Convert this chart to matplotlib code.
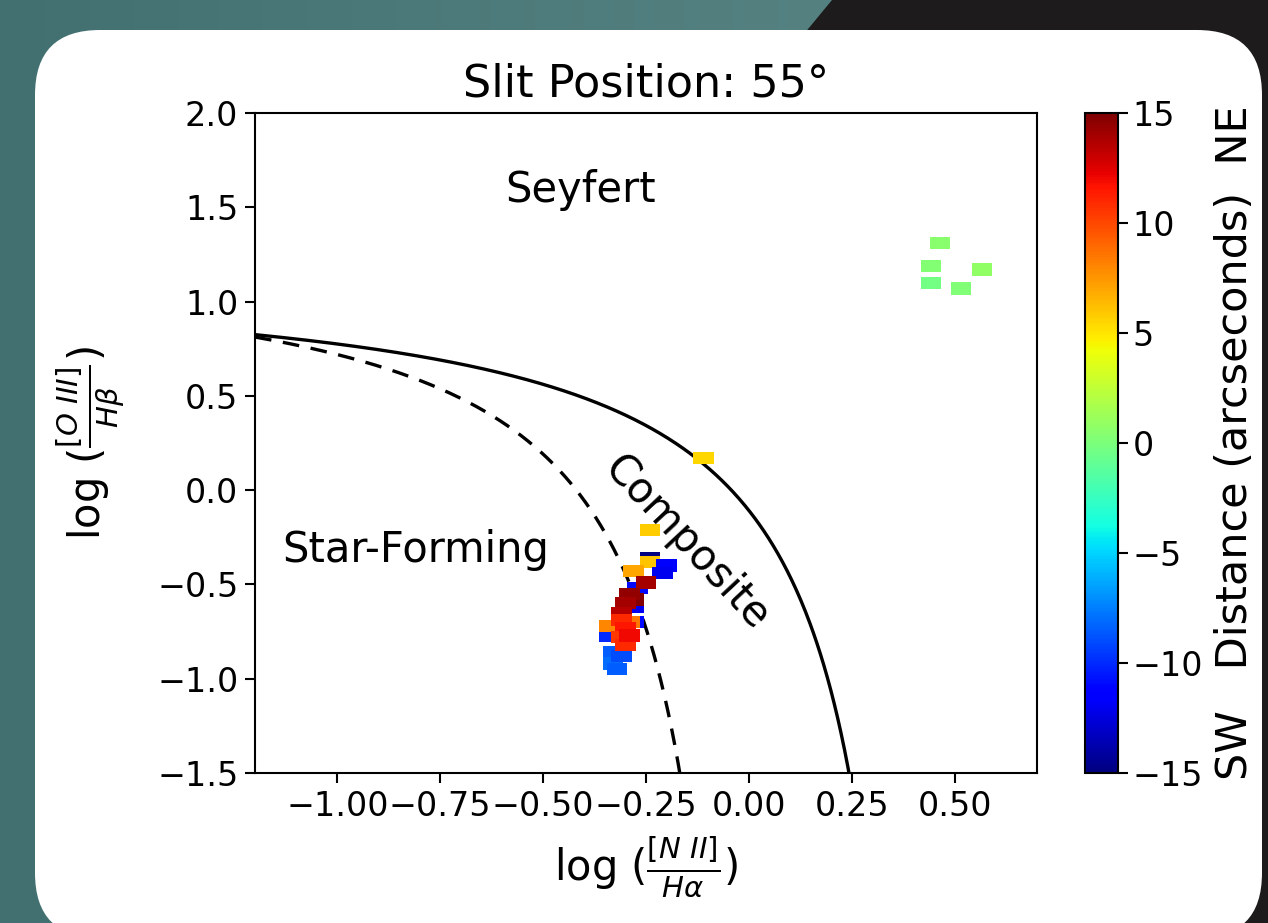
import matplotlib
matplotlib.use("Agg")
import matplotlib.pyplot as plt
import numpy as np
from matplotlib.patches import FancyBboxPatch, Polygon

# ---- data ----
# log([NII]/Ha), log([OIII]/Hb), distance along the slit (arcsec)
nii_ha = [0.464, 0.442, 0.442, 0.515, 0.566,
          -0.11, -0.24, -0.24, -0.24, -0.28,
          -0.20, -0.21, -0.27, -0.28, -0.28,
          -0.25, -0.28, -0.29, -0.30, -0.31,
          -0.34, -0.33, -0.33, -0.32, -0.31,
          -0.34, -0.29, -0.31, -0.30, -0.31, -0.30, -0.29]
oiii_hb = [1.31, 1.19, 1.10, 1.07, 1.17,
           0.17, -0.21, -0.36, -0.38, -0.43,
           -0.40, -0.44, -0.52, -0.62, -0.70,
           -0.49, -0.58, -0.55, -0.60, -0.65,
           -0.77, -0.86, -0.92, -0.95, -0.88,
           -0.72, -0.70, -0.69, -0.73, -0.78, -0.82, -0.77]
distance = [0.5, 0.3, -0.3, 0.2, 0.8,
            5.5, 5.8, -15, 6.0, 7.0,
            -11.5, -12, -11, -12, -11,
            14, 14.8, 14.5, 14, 13.5,
            -10, -8.5, -8, -8.5, -9,
            8, 8.5, 11, 11.5, 10.5, 11, 12]

# demarcation lines: log(OIII/Hb) = a / (log(NII/Ha) - b) + c
kewley = (0.61, 0.47, 1.19)
kauffmann = (0.61, 0.05, 1.30)

W, H = 1268, 923
fig = plt.figure(figsize=(W / 100, H / 100), dpi=100)

# ---- background: teal panel, dark image corner, white card ----
bg = fig.add_axes([0, 0, 1, 1], zorder=-10)
bg.set_xlim(0, W)
bg.set_ylim(0, H)
bg.axis("off")
grad = np.linspace(0, 1, 256).reshape(1, -1)
teal = matplotlib.colors.LinearSegmentedColormap.from_list("teal", ["#427070", "#5f8a8a"])
bg.imshow(grad, cmap=teal, extent=[0, W, 0, H], aspect="auto", zorder=0)
bg.add_patch(Polygon([(832, H), (W, H), (W, 0), (780, 0), (780, 860)],
                     closed=True, facecolor="#1d1b1b", edgecolor="none", zorder=1))
bg.add_patch(FancyBboxPatch((35 + 65, -15 + 65), 1262 - 35 - 130, 893 + 15 - 130,
                            boxstyle="round,pad=65", facecolor="white",
                            edgecolor="none", zorder=2))

# ---- main axes ----
ax = fig.add_axes([255 / W, 1 - 773 / H, 782 / W, 660 / H])

xk = np.linspace(-1.2, kewley[1] - 0.001, 600)
ax.plot(xk, kewley[0] / (xk - kewley[1]) + kewley[2], color="black", lw=2.4)
xf = np.linspace(-1.2, kauffmann[1] - 0.001, 600)
ax.plot(xf, kauffmann[0] / (xf - kauffmann[1]) + kauffmann[2], color="black",
        lw=2.4, ls=(0, (5, 3.5)))

rect = [(-1, -0.6), (1, -0.6), (1, 0.6), (-1, 0.6), (-1, -0.6)]
sc = ax.scatter(nii_ha, oiii_hb, c=distance, cmap="jet", vmin=-15, vmax=15,
                marker=rect, s=220, linewidths=0, zorder=3)

ax.set_xlim(-1.2, 0.7)
ax.set_ylim(-1.5, 2.0)
ax.set_xticks([-1.0, -0.75, -0.5, -0.25, 0.0, 0.25, 0.5])
ax.set_xticklabels(["\u22121.00", "\u22120.75", "\u22120.50", "\u22120.25", "0.00", "0.25", "0.50"])
ax.set_yticks([-1.5, -1.0, -0.5, 0.0, 0.5, 1.0, 1.5, 2.0])
ax.tick_params(labelsize=24, width=1.5, length=7, pad=5)
for sp in ax.spines.values():
    sp.set_linewidth(1.5)

ax.text(-0.41, 1.59, "Seyfert", fontsize=30, ha="center", va="center")
ax.text(-0.81, -0.32, "Star-Forming", fontsize=30, ha="center", va="center")
ax.text(-0.15, -0.28, "Composite", fontsize=30, ha="center", va="center", rotation=-47)

ax.set_title("Slit Position: 55\u00b0", fontsize=32, pad=12)
ax.set_xlabel(r"log ($\frac{[N\ II]}{H\alpha}$)", fontsize=30, labelpad=8)
ax.set_ylabel(r"log ($\frac{[O\ III]}{H\beta}$)", fontsize=30, labelpad=22)

# ---- colorbar ----
cax = fig.add_axes([1085 / W, 1 - 773 / H, 33 / W, 660 / H])
cb = fig.colorbar(sc, cax=cax, ticks=[-15, -10, -5, 0, 5, 10, 15])
cb.ax.tick_params(labelsize=24, width=1.5, length=7)
cb.outline.set_linewidth(1.5)
cb.set_label("SW   Distance (arcseconds)  NE", fontsize=31, labelpad=8)

fig.savefig("out.png", dpi=100)
